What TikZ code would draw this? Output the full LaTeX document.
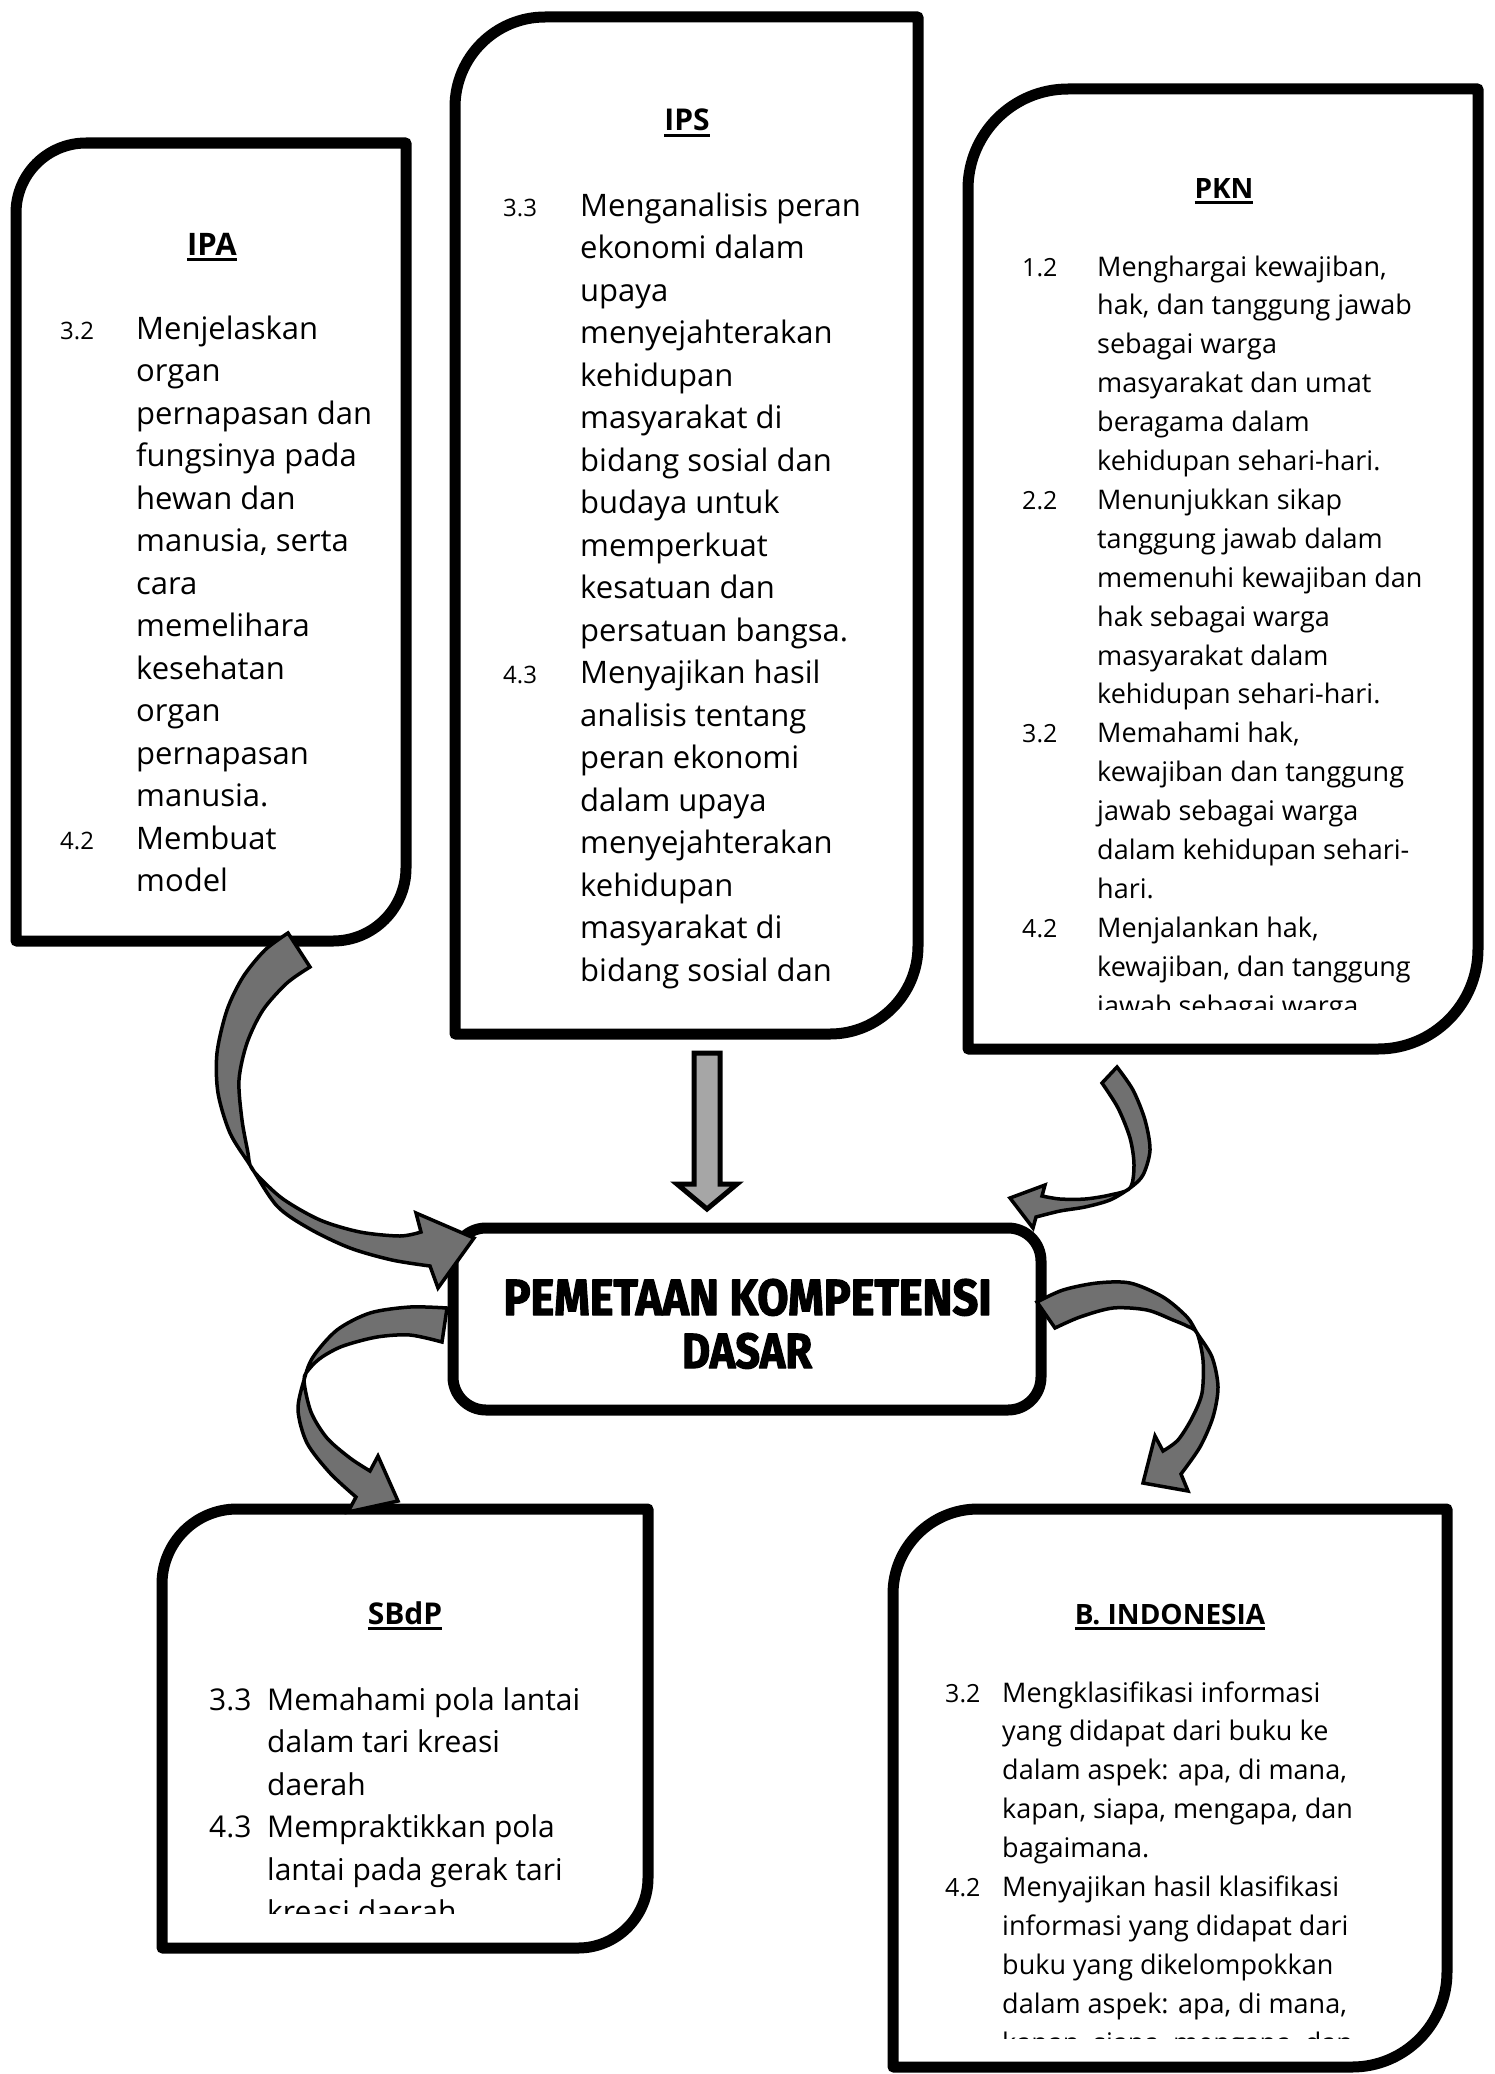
\documentclass[tikz,border=0pt]{standalone}
\usepackage{fontspec}
\setmainfont{Open Sans}
\newfontfamily\titlefont{Fira Sans}[BoldFeatures={FakeBold=2.5}]
\definecolor{arrowgray}{RGB}{112,112,112}
\definecolor{lightarrow}{RGB}{166,166,166}
\newcommand\kdlist[2]{\vtop{\halign{\hbox to #1{##\hfil}&##\hfil\cr#2\crcr}}}
\newcommand\hdr[1]{\vtop{\hbox{\bfseries #1}\kern 3pt\hrule height 2.6pt}}
\newcommand\kdbig{\fontsize{31}{42.5}\selectfont}
\newcommand\kdsmall{\fontsize{27}{38.9}\selectfont}
\newcommand\kdmid{\fontsize{30}{42.5}\selectfont}
\newcommand\knum[1]{{\fontsize{24}{24}\selectfont #1}}
\begin{document}
\begin{tikzpicture}[x=1pt,y=-1pt,line join=round,
  subj/.style={draw=black,line width=11pt,fill=white},
  garrow/.style={draw=black,line width=3.5pt,fill=arrowgray,line join=miter},
  sarrow/.style={draw=black,line width=5pt,fill=lightarrow,line join=miter},
  txt/.style={inner sep=0pt,anchor=base west},
  hd/.style={inner sep=0pt,anchor=base}]
\useasboundingbox (0,0) rectangle (1494,2074);
\fill[white] (0,0) rectangle (1494,2074);

% ---------- boxes ----------
% IPA
\draw[subj] (16,143+70) arc[start angle=180,end angle=270,radius=70] -- (406,143) -- (406,941-73) arc[start angle=0,end angle=90,radius=73] -- (16,941) -- cycle;
% IPS
\draw[subj] (455,17+90) arc[start angle=180,end angle=270,radius=90] -- (918,17) -- (918,1034-88) arc[start angle=0,end angle=90,radius=88] -- (455,1034) -- cycle;
% PKN
\draw[subj] (968,89+100) arc[start angle=180,end angle=270,radius=100] -- (1478,89) -- (1478,1049-100) arc[start angle=0,end angle=90,radius=100] -- (968,1049) -- cycle;
% centre
\draw[subj,rounded corners=33pt] (453,1228) rectangle (1041,1410);
% SBdP
\draw[subj] (162,1509+75) arc[start angle=180,end angle=270,radius=75] -- (648,1509) -- (648,1948-70) arc[start angle=0,end angle=90,radius=70] -- (162,1948) -- cycle;
% B. Indonesia
\draw[subj] (893,1509+85) arc[start angle=180,end angle=270,radius=85] -- (1447,1509) -- (1447,2067-95) arc[start angle=0,end angle=90,radius=95] -- (893,2067) -- cycle;

% ---------- texts ----------
\node[hd,font=\fontsize{31}{38}\selectfont] (ipahead) at (212,255) {\hdr{IPA}};
\node[txt,font=\kdbig] (ipalist) at (60,339) {\kdlist{76pt}{%
\knum{3.2}&Menjelaskan\cr
&organ\cr
&pernapasan dan\cr
&fungsinya pada\cr
&hewan dan\cr
&manusia, serta\cr
&cara\cr
&memelihara\cr
&kesehatan\cr
&organ\cr
&pernapasan\cr
&manusia.\cr
\knum{4.2}&Membuat\cr
&model}};

\node[hd,font=\fontsize{30}{38}\selectfont] (ipshead) at (687,131) {\hdr{IPS}};
\node[txt,font=\kdbig] (ipslist) at (503,216) {\kdlist{77pt}{%
\knum{3.3}&Menganalisis peran\cr
&ekonomi dalam\cr
&upaya\cr
&menyejahterakan\cr
&kehidupan\cr
&masyarakat di\cr
&bidang sosial dan\cr
&budaya untuk\cr
&memperkuat\cr
&kesatuan dan\cr
&persatuan bangsa.\cr
\knum{4.3}&Menyajikan hasil\cr
&analisis tentang\cr
&peran ekonomi\cr
&dalam upaya\cr
&menyejahterakan\cr
&kehidupan\cr
&masyarakat di\cr
&bidang sosial dan}};

\node[hd,font=\fontsize{28}{34}\selectfont] (pknhead) at (1224,198) {\hdr{PKN}};
\begin{scope}
\clip (975,95) rectangle (1470,1009);
\node[txt,font=\kdsmall] (pknlist) at (1022,276) {\kdlist{75pt}{%
{\fontsize{25}{25}\selectfont 1.2}&Menghargai kewajiban,\cr
&hak, dan tanggung jawab\cr
&sebagai warga\cr
&masyarakat dan umat\cr
&beragama dalam\cr
&kehidupan sehari-hari.\cr
{\fontsize{25}{25}\selectfont 2.2}&Menunjukkan sikap\cr
&tanggung jawab dalam\cr
&memenuhi kewajiban dan\cr
&hak sebagai warga\cr
&masyarakat dalam\cr
&kehidupan sehari-hari.\cr
{\fontsize{25}{25}\selectfont 3.2}&Memahami hak,\cr
&kewajiban dan tanggung\cr
&jawab sebagai warga\cr
&dalam kehidupan sehari-\cr
&hari.\cr
{\fontsize{25}{25}\selectfont 4.2}&Menjalankan hak,\cr
&kewajiban, dan tanggung\cr
&jawab sebagai warga}};
\end{scope}

\node[hd] (title1) at (747.5,1315) {\resizebox{488pt}{36pt}{\titlefont\bfseries PEMETAAN KOMPETENSI}};
\node[hd] (title2) at (747,1368) {\resizebox{130pt}{35pt}{\titlefont\bfseries DASAR}};

\node[hd,font=\fontsize{30}{38}\selectfont] (sbdphead) at (405,1624) {\hdr{SBdP}};
\begin{scope}
\clip (170,1515) rectangle (640,1913);
\node[txt,font=\kdmid] (sbdplist) at (209,1710) {\kdlist{58pt}{%
3.3&Memahami pola lantai\cr
&dalam tari kreasi\cr
&daerah\cr
4.3&Mempraktikkan pola\cr
&lantai pada gerak tari\cr
&kreasi daerah}};
\end{scope}

\node[hd,font=\fontsize{28}{34}\selectfont] (bindhead) at (1170,1624) {\hdr{B. INDONESIA}};
\begin{scope}
\clip (900,1515) rectangle (1440,2038);
\node[txt,font=\kdsmall] (bindlist) at (945,1702) {\kdlist{57pt}{%
{\fontsize{25}{25}\selectfont 3.2}&Mengklasifikasi informasi\cr
&yang didapat dari buku ke\cr
&dalam aspek: apa, di mana,\cr
&kapan, siapa, mengapa, dan\cr
&bagaimana.\cr
{\fontsize{25}{25}\selectfont 4.2}&Menyajikan hasil klasifikasi\cr
&informasi yang didapat dari\cr
&buku yang dikelompokkan\cr
&dalam aspek: apa, di mana,\cr
&kapan, siapa, mengapa, dan}};
\end{scope}

% ---------- arrows ----------
% IPA -> centre
\draw[garrow] plot[smooth] coordinates {(288,933) (265,950) (243,977) (227,1010) (217,1053) (218,1093) (230,1133) (250,1165) (277,1206) (310,1229) (350,1248) (392,1260) (430,1266)}
  -- (438,1288) -- (474,1238) -- (416,1213) --
  plot[smooth] coordinates {(421,1232) (400,1236) (360,1232) (320,1220) (283,1199) (258,1176) (250,1165) (248,1153) (242,1120) (239,1080) (247,1043) (263,1010) (287,983) (310,967)} -- cycle;
% IPS -> centre
\draw[sarrow] (694,1053) -- (720,1053) -- (720,1184) -- (737,1184) -- (707,1209) -- (677,1184) -- (694,1184) -- cycle;
% PKN -> centre
\draw[garrow] plot[smooth] coordinates {(1117,1067) (1133,1090) (1145,1120) (1150,1150) (1143,1175) (1130,1188) (1110,1200) (1085,1207) (1060,1211) (1036,1217)}
  -- (1033,1228) -- (1010,1198) -- (1045,1185) --
  plot[smooth] coordinates {(1042,1196) (1060,1199) (1085,1199) (1110,1195) (1130,1188) (1134,1165) (1130,1138) (1118,1108) (1102,1083)} -- cycle;
% centre -> SBdP
\draw[garrow] plot[smooth] coordinates {(447,1308) (410,1307) (370,1313) (337,1330) (313,1357) (304,1380) (298,1410) (307,1443) (330,1473) (356,1497)}
  -- (348,1512) -- (398,1501) -- (378,1456) --
  plot[smooth] coordinates {(370,1471) (350,1458) (327,1438) (311,1412) (304,1380) (310,1368) (322,1357) (343,1346) (377,1337) (410,1335) (442,1342)} -- cycle;
% centre -> B. Indonesia
\draw[garrow] plot[smooth] coordinates {(1037,1302) (1063,1290) (1097,1283) (1130,1283) (1163,1297) (1187,1317) (1197,1333) (1212,1357) (1218,1387) (1213,1417) (1200,1447) (1181,1474)}
  -- (1188,1491) -- (1143,1483) -- (1155,1436) --
  plot[smooth] coordinates {(1163,1451) (1178,1440) (1192,1418) (1202,1393) (1203,1360) (1197,1333) (1187,1326) (1173,1320) (1147,1310) (1113,1308) (1080,1317) (1055,1328)} -- cycle;
\end{tikzpicture}
\end{document}
